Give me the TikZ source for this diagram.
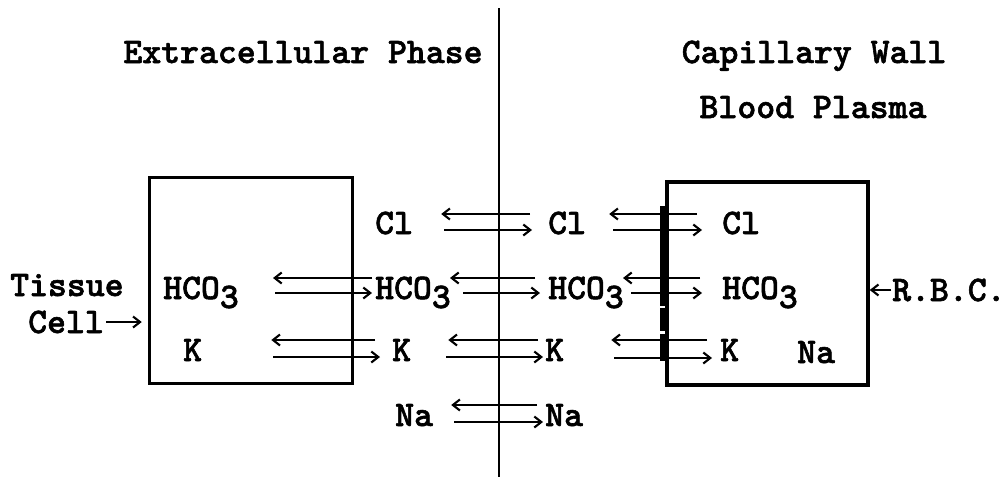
\documentclass[tikz,border=0pt]{standalone}
\usepackage{fontspec}
\newfontfamily\tw[FakeBold=1.6]{lmmonolt10-bold.otf}
\usetikzlibrary{arrows.meta}
\begin{document}
\begin{tikzpicture}[x=1pt,y=-1pt,
  lbl/.style={inner sep=0pt, anchor=west, text height=22pt, text depth=0pt, font=\tw\fontsize{36}{40}\selectfont},
  ttl/.style={lbl, anchor=center},
  cellbox/.style={draw, line width=3.5pt, inner sep=0pt},
  arr/.style={line width=2.3pt, -{Straight Barb[length=7pt,width=11pt,line width=2.1pt]}},
  wall/.style={line width=5pt},
  divider/.style={line width=2.4pt}
]
\useasboundingbox (0,0) rectangle (1007,477);
\fill[white] (0,0) rectangle (1007,477);

% dividing line
\coordinate (vtop) at (499,8);
\coordinate (vbot) at (499,477);
\draw[divider] (vtop) -- (vbot);

% titles
\node[ttl] (ext) at (303,52) {Extracellular Phase};
\node[ttl] (cap) at (814,52) {Capillary Wall};
\node[ttl] (blood) at (813,107) {Blood Plasma};

% boxes
\node[cellbox, minimum width=203pt, minimum height=206pt] (tbox) at (251,280.5) {};
\node[cellbox, minimum width=201pt, minimum height=203pt] (rbox) at (767.5,283.5) {};

% capillary wall (thick segments)
\draw[wall] ([shift={(-3,26)}]rbox.north west) -- ([shift={(-3,126)}]rbox.north west);
\draw[wall] ([shift={(-3,128)}]rbox.north west) -- ([shift={(-3,151)}]rbox.north west);
\draw[wall] ([shift={(-3,154)}]rbox.north west) -- ([shift={(-3,181)}]rbox.north west);

% outer labels
\node[lbl] (tissue) at (10,285) {Tissue};
\node[lbl] (cell) at (28,322) {Cell};
\draw[arr, shorten >=6pt] ([xshift=2]cell.east) -- (tbox.west |- cell.east);
\node[lbl] (rbc) at (892,290) {R.B.C.};
\draw[arr] ([xshift=-1]rbc.west) -- (rbox.east |- rbc.west);

% ion labels
\node[lbl] (hcoA) at (163,288) {HCO\raisebox{-9pt}{3}};
\node[lbl] (kA) at (183,350) {K};

\node[lbl] (clB) at (375,223) {Cl};
\node[lbl] (hcoB) at (375,288) {HCO\raisebox{-9pt}{3}};
\node[lbl] (kB) at (392,350) {K};
\node[lbl] (naB) at (395,415) {Na};

\node[lbl] (clC) at (548,223) {Cl};
\node[lbl] (hcoC) at (548,288) {HCO\raisebox{-9pt}{3}};
\node[lbl] (kC) at (545,350) {K};
\node[lbl] (naC) at (545,415) {Na};

\node[lbl] (clD) at (722,223) {Cl};
\node[lbl] (hcoD) at (722,288) {HCO\raisebox{-9pt}{3}};
\node[lbl] (kD) at (720,350) {K};
\node[lbl] (naD) at (797,352) {Na};

% exchange arrows: tissue cell <-> extracellular
\draw[arr] ([shift={(-3,-10)}]hcoB.west) -- ([shift={(34,-10)}]hcoA.east);
\draw[arr] ([shift={(36,5)}]hcoA.east) -- ([shift={(-3,5)}]hcoB.west);
\draw[arr] ([shift={(-17,-10)}]kB.west) -- ([shift={(69,-10)}]kA.east);
\draw[arr] ([shift={(71,7)}]kA.east) -- ([shift={(-12,7)}]kB.west);

% extracellular <-> plasma
\draw[arr] ([shift={(-18,-9)}]clC.west) -- ([shift={(28,-9)}]clB.east);
\draw[arr] ([shift={(31,7)}]clB.east) -- ([shift={(-16,7)}]clC.west);
\draw[arr] ([shift={(-13,-10)}]hcoC.west) -- ([shift={(-1,-10)}]hcoB.east);
\draw[arr] ([shift={(12,5)}]hcoB.east) -- ([shift={(-8,5)}]hcoC.west);
\draw[arr] ([shift={(-7,-10)}]kC.west) -- ([shift={(37,-10)}]kB.east);
\draw[arr] ([shift={(35,7)}]kB.east) -- ([shift={(-2,7)}]kC.west);
\draw[arr] ([shift={(-8,-10)}]naC.west) -- ([shift={(18,-10)}]naB.east);
\draw[arr] ([shift={(21,7)}]naB.east) -- ([shift={(-2,7)}]naC.west);

% plasma <-> red blood cell
\draw[arr] ([shift={(-25,-9)}]clD.west) -- ([shift={(23,-9)}]clC.east);
\draw[arr] ([shift={(27,7)}]clC.east) -- ([shift={(-20,7)}]clD.west);
\draw[arr] ([shift={(-22,-10)}]hcoD.west) -- ([shift={(-1,-10)}]hcoC.east);
\draw[arr] ([shift={(7,5)}]hcoC.east) -- ([shift={(-20,5)}]hcoD.west);
\draw[arr] ([shift={(-13,-10)}]kD.west) -- ([shift={(47,-10)}]kC.east);
\draw[arr] ([shift={(50,8)}]kC.east) -- ([shift={(-8,8)}]kD.west);
\end{tikzpicture}
\end{document}
